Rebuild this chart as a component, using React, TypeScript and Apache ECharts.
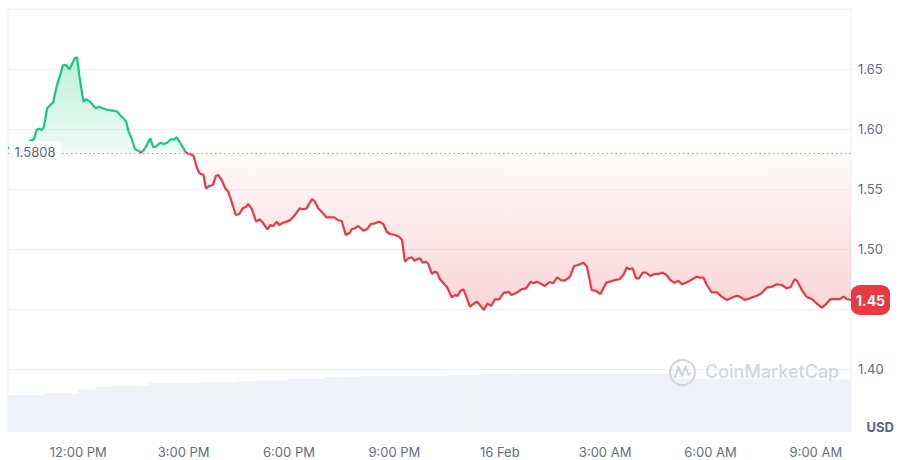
import React, { useEffect, useRef } from 'react';
import * as echarts from 'echarts';

// Price observations: minutes after 10:00 AM (15 Feb) and price in USD
const BASELINE = 1.5808;
const minutesSince10am = [
  0, 20, 44, 49, 53, 58, 61, 67, 72, 77,
  83, 90, 94, 99, 105, 110, 114, 118, 122, 129,
  133, 140, 145, 150, 156, 162, 167, 173, 180, 187,
  191, 197, 202, 206, 211, 217, 223, 227, 232, 237,
  243, 248, 254, 260, 266, 272, 278, 284, 288, 293,
  298, 303, 308, 311, 317, 322, 327, 334, 338, 344,
  350, 355, 359, 365, 371, 376, 382, 389, 395, 401,
  407, 410, 416, 424, 430, 436, 443, 448, 453, 459,
  463, 470, 476, 482, 490, 498, 504, 510, 519, 523,
  530, 538, 544, 557, 563, 570, 577, 584, 587, 593,
  598, 607, 613, 620, 627, 634, 641, 647, 653, 661,
  668, 673, 678, 684, 690, 694, 699, 704, 708, 714,
  718, 724, 729, 733, 738, 745, 750, 758, 764, 768,
  773, 778, 784, 789, 795, 801, 806, 813, 819, 825,
  832, 839, 847, 851, 855, 860, 869, 877, 885, 893,
  897, 903, 912, 917, 925, 931, 938, 944, 951, 960,
  967, 974, 983, 989, 997, 1004, 1012, 1022, 1028, 1037,
  1045, 1052, 1057, 1061, 1067, 1073, 1078, 1084, 1090, 1097,
  1104, 1111, 1118, 1125, 1131, 1138, 1145, 1151, 1162, 1176,
  1182, 1188, 1194, 1202, 1211, 1219, 1228, 1236, 1245, 1250,
  1259, 1267, 1279, 1287, 1296, 1305, 1313, 1322, 1330, 1337,
  1344, 1348, 1356, 1364, 1373, 1381, 1390, 1397, 1405, 1414,
  1421, 1427, 1433, 1440,
];
const prices = [
  1.5842, 1.5858, 1.5914, 1.5992, 1.6003, 1.5992, 1.6014, 1.6173, 1.62, 1.6219,
  1.6353, 1.6464, 1.6533, 1.6533, 1.6498, 1.6548, 1.6589, 1.6598, 1.6436, 1.6228,
  1.6248, 1.6228, 1.62, 1.6173, 1.6186, 1.6173, 1.6164, 1.6158, 1.6153, 1.6144,
  1.6117, 1.6089, 1.6061, 1.5978, 1.5923, 1.5831, 1.5819, 1.5803, 1.5825, 1.5867,
  1.5923, 1.5848, 1.5858, 1.5886, 1.5875, 1.5886, 1.5914, 1.5914, 1.5931, 1.5894,
  1.5853, 1.5811, 1.5792, 1.5792, 1.5775, 1.5686, 1.5631, 1.5617, 1.5506, 1.5525,
  1.5533, 1.5608, 1.5617, 1.5575, 1.5506, 1.5478, 1.5394, 1.5283, 1.5292, 1.5339,
  1.5353, 1.5375, 1.5339, 1.5228, 1.5248, 1.5214, 1.5164, 1.52, 1.5192, 1.5228,
  1.52, 1.5219, 1.5228, 1.5242, 1.5283, 1.5339, 1.5331, 1.5339, 1.5414, 1.5403,
  1.5339, 1.5298, 1.5264, 1.5264, 1.5242, 1.5233, 1.5117, 1.5136, 1.5164, 1.5173,
  1.5192, 1.5153, 1.5164, 1.5208, 1.5214, 1.5228, 1.5208, 1.5144, 1.5125, 1.5117,
  1.5103, 1.5075, 1.4894, 1.4923, 1.4931, 1.4903, 1.4914, 1.4923, 1.4886, 1.4894,
  1.4875, 1.4792, 1.4811, 1.4803, 1.4748, 1.4708, 1.4681, 1.4598, 1.4617, 1.4608,
  1.4653, 1.4664, 1.4589, 1.4519, 1.4542, 1.4561, 1.4533, 1.4492, 1.4548, 1.4525,
  1.4581, 1.4581, 1.4636, 1.4636, 1.4644, 1.4617, 1.4636, 1.4664, 1.4673, 1.4728,
  1.4714, 1.4728, 1.4706, 1.4692, 1.4725, 1.4714, 1.4764, 1.4742, 1.4736, 1.4769,
  1.4858, 1.4867, 1.4886, 1.4853, 1.4658, 1.4653, 1.4625, 1.4719, 1.4728, 1.4742,
  1.4748, 1.4792, 1.4848, 1.4831, 1.4839, 1.4756, 1.4756, 1.4803, 1.4803, 1.4775,
  1.4792, 1.4792, 1.4803, 1.4783, 1.4742, 1.4719, 1.4736, 1.4706, 1.4728, 1.4769,
  1.4761, 1.4761, 1.47, 1.4639, 1.4639, 1.4603, 1.4575, 1.4594, 1.4611, 1.4603,
  1.4575, 1.4589, 1.4611, 1.4631, 1.4678, 1.4686, 1.4706, 1.47, 1.4673, 1.4683,
  1.475, 1.4733, 1.4658, 1.4603, 1.4583, 1.4548, 1.4511, 1.4539, 1.4583, 1.4583,
  1.4583, 1.4603, 1.4583, 1.4575,
];

// Volume (relative units), one bar per 30-minute bucket
const volumeMinutes = [
  15, 45, 75, 105, 135, 165, 195, 225, 255, 285, 315, 345,
  375, 405, 435, 465, 495, 525, 555, 585, 615, 645, 675, 705,
  735, 765, 795, 825, 855, 885, 915, 945, 975, 1005, 1035, 1065,
  1095, 1125, 1155, 1185, 1215, 1245, 1275, 1305, 1335, 1365, 1395, 1425,
];
const volumes = [
  40, 40, 42, 42, 46, 49, 50, 50, 53, 53, 53, 54,
  54, 55, 56, 56, 58, 58, 60, 60, 61, 61, 61, 61,
  61, 62, 62, 63, 63, 63, 63, 63, 63, 63, 63, 63,
  63, 63, 58, 58, 58, 58, 58, 58, 58, 58, 57, 57,
];

const xTickMinutes = [120, 300, 480, 660, 840, 1020, 1200, 1380];
const xTickLabels = ['12:00 PM', '3:00 PM', '6:00 PM', '9:00 PM', '16 Feb', '3:00 AM', '6:00 AM', '9:00 AM'];

const Y_MIN = 1.35;
const Y_MAX = 1.7;
const Y_STEP = 0.05;

const GREEN = '#16c784';
const RED = '#ea3943';
const AXIS_TEXT = '#616e85';
const GRID_LINE = '#eff2f5';
const WATERMARK = '#cfd5e0';

export default function App() {
  const ref = useRef<HTMLDivElement>(null);

  useEffect(() => {
    document.body.style.margin = '0';
    const chart = echarts.init(ref.current!, null, { renderer: 'svg' });
    const priceData = minutesSince10am.map((m, i) => [m, prices[i]]);
    const last = priceData[priceData.length - 1];
    const lastPrice = last[1] as number;
    const volumeData = volumeMinutes.map((m, i) => [m, volumes[i]]);

    const option: any = {
      animation: false,
      textStyle: { fontFamily: 'Inter, "Noto Sans", sans-serif' },
      grid: [
        { left: 8, right: 49, top: 9, bottom: 31, show: true, borderColor: GRID_LINE, borderWidth: 1 },
        { left: 8, right: 49, top: 340, bottom: 28 },
      ],
      xAxis: [
        { type: 'value', gridIndex: 0, min: 0, max: 1440, show: false },
        {
          type: 'value', gridIndex: 1, min: 0, max: 1440,
          axisLine: { show: false }, axisTick: { show: false }, splitLine: { show: false },
          axisLabel: {
            customValues: xTickMinutes,
            formatter: (v: number) => {
              const i = xTickMinutes.indexOf(v);
              return i >= 0 ? xTickLabels[i] : '';
            },
            color: AXIS_TEXT, fontSize: 13, margin: 13,
          },
        },
      ],
      yAxis: [
        {
          type: 'value', gridIndex: 0, position: 'right', min: Y_MIN, max: Y_MAX, interval: Y_STEP,
          axisLine: { show: false }, axisTick: { show: false },
          axisLabel: {
            color: AXIS_TEXT, fontSize: 13, margin: 7,
            showMinLabel: false, showMaxLabel: false,
            // the tick label under the current-price badge is hidden by the badge
            formatter: (v: number) => (Math.abs(v - lastPrice) < 0.02 ? '' : v.toFixed(2)),
          },
          splitLine: { lineStyle: { color: GRID_LINE, width: 1 } },
        },
        { type: 'value', gridIndex: 1, min: 0, max: 100, show: false },
      ],
      series: [
        {
          id: 'volume', type: 'bar', xAxisIndex: 1, yAxisIndex: 1, data: volumeData,
          barWidth: 18, itemStyle: { color: '#eef1f5' }, silent: true, z: 1,
        },
        {
          id: 'price', type: 'line', xAxisIndex: 0, yAxisIndex: 0, data: priceData,
          showSymbol: false, symbol: 'none', smooth: false,
          lineStyle: { width: 2.2, color: RED },
          areaStyle: { origin: BASELINE, color: 'rgba(234,57,67,0.1)' },
          z: 3,
          markLine: {
            silent: true, symbol: ['none', 'none'],
            label: { show: false },
            lineStyle: { type: [1.5, 3], color: '#a1a7bb', width: 1 },
            data: [{ yAxis: BASELINE }],
          },
          markPoint: {
            silent: true,
            data: [
              {
                coord: [0, BASELINE], symbol: 'rect', symbolSize: [52, 22], symbolOffset: [27, 0],
                itemStyle: { color: '#ffffff' },
                label: { show: true, position: 'inside', formatter: BASELINE.toFixed(4), color: '#58667e', fontSize: 13 },
              },
              {
                coord: last, symbol: 'roundRect', symbolSize: [39, 30], symbolOffset: [19.5, 0],
                itemStyle: { color: RED },
                label: {
                  show: true, position: 'inside',
                  formatter: (Math.floor(lastPrice * 100) / 100).toFixed(2),
                  color: '#ffffff', fontSize: 14, fontWeight: 'bold',
                },
              },
            ],
          },
        },
      ],
      graphic: [
        {
          type: 'circle', z: 10, silent: true,
          shape: { cx: 682.5, cy: 372.5, r: 12.5 },
          style: { fill: 'none', stroke: WATERMARK, lineWidth: 2 },
        },
        {
          type: 'polyline', z: 10, silent: true,
          shape: { points: [[675, 378], [678.5, 366.5], [682, 376], [685.5, 366.5], [688.5, 375], [691, 373]] },
          style: { fill: 'none', stroke: WATERMARK, lineWidth: 2, lineJoin: 'round' },
        },
        {
          type: 'text', z: 10, silent: true, left: 705, top: 362,
          style: { text: 'CoinMarketCap', fill: WATERMARK, fontSize: 18, fontWeight: 500, fontFamily: 'Inter, sans-serif' },
        },
        {
          type: 'text', z: 10, silent: true, right: 6, top: 420,
          style: { text: 'USD', fill: '#58667e', fontSize: 13, fontWeight: 'bold', fontFamily: 'Inter, sans-serif' },
        },
      ],
    };

    chart.setOption(option);

    const px = (v: number) => chart.convertToPixel({ yAxisIndex: 0 }, v) as number;
    const y0 = px(Y_MAX);
    const y1 = px(Y_MIN);
    const yb = px(BASELINE);
    const yHi = px(Math.max(...prices));
    const yLo = px(Math.min(...prices));
    const fLine = (yb - y0) / (y1 - y0);
    const fArea = (yb - yHi) / (yLo - yHi);

    const lineGrad = new echarts.graphic.LinearGradient(0, y0, 0, y1, [
      { offset: 0, color: GREEN },
      { offset: fLine, color: GREEN },
      { offset: fLine, color: RED },
      { offset: 1, color: RED },
    ], true);
    const areaGrad = new echarts.graphic.LinearGradient(0, yHi, 0, yLo, [
      { offset: 0, color: 'rgba(22,199,132,0.40)' },
      { offset: fArea, color: 'rgba(22,199,132,0.10)' },
      { offset: fArea, color: 'rgba(234,57,67,0.04)' },
      { offset: 1, color: 'rgba(234,57,67,0.30)' },
    ], true);

    chart.setOption({
      series: [{ id: 'price', lineStyle: { color: lineGrad }, areaStyle: { origin: BASELINE, color: areaGrad } }],
    });

    return () => chart.dispose();
  }, []);

  return <div ref={ref} style={{ width: 900, height: 460 }} />;
}
